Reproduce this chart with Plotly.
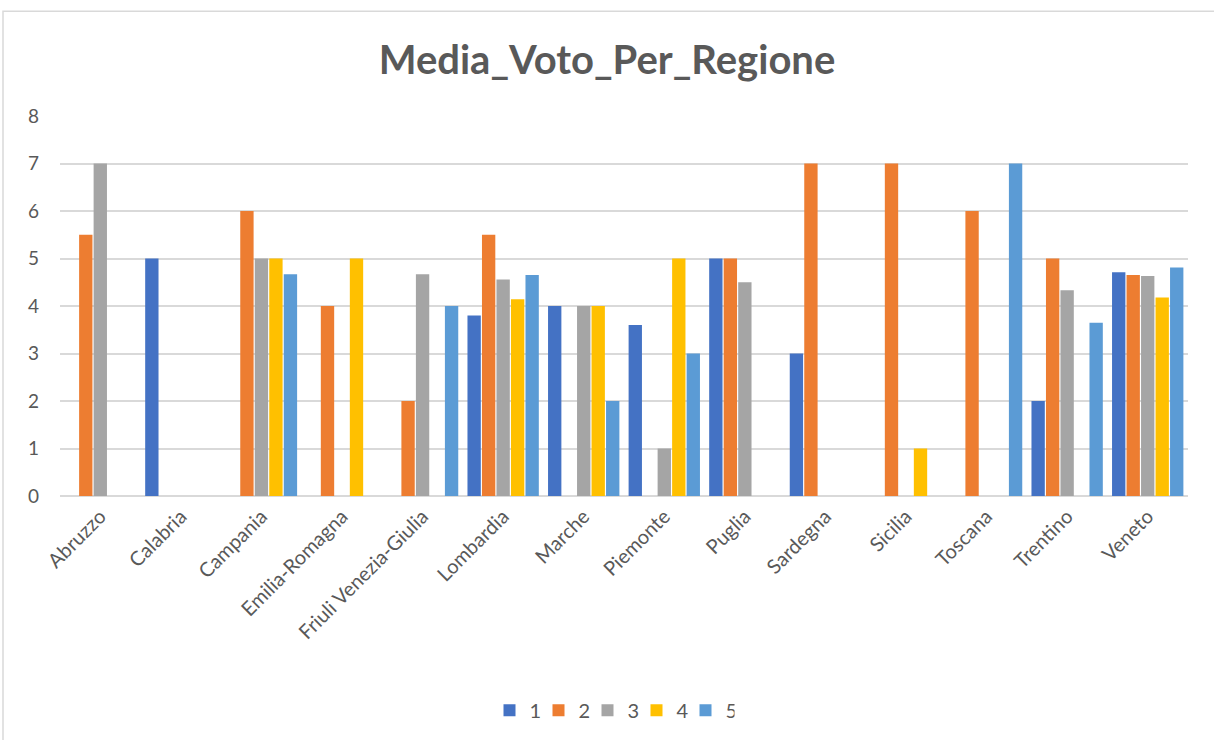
import plotly.graph_objects as go

regions = ["Abruzzo", "Calabria", "Campania", "Emilia-Romagna", "Friuli Venezia-Giulia",
           "Lombardia", "Marche", "Piemonte", "Puglia", "Sardegna", "Sicilia",
           "Toscana", "Trentino", "Veneto"]

voto_1 = [None, 5, None, None, None, 3.8, 4, 3.6, 5, 3, None, None, 2, 4.71]
voto_2 = [5.5, None, 6, 4, 2, 5.5, None, None, 5, 7, 7, 6, 5, 4.65]
voto_3 = [7, None, 5, None, 4.67, 4.56, 4, 1, 4.5, None, None, None, 4.33, 4.63]
voto_4 = [None, None, 5, 5, None, 4.14, 4, 5, None, None, 1, None, None, 4.18]
voto_5 = [None, None, 4.67, None, 4, 4.65, 2, 3, None, None, None, 7, 3.65, 4.81]

series_names = ["1", "2", "3", "4", "5"]
series_values = [voto_1, voto_2, voto_3, voto_4, voto_5]
colors = ["#4472C4", "#ED7D31", "#A5A5A5", "#FFC000", "#5B9BD5"]

fig = go.Figure()
for name, vals, col in zip(series_names, series_values, colors):
    fig.add_trace(go.Bar(x=regions, y=vals, name=name, marker_color=col,
                         marker_line_width=0))

font_fam = "Lato, 'Open Sans', sans-serif"
fig.update_layout(
    width=1214, height=740,
    margin=dict(l=60, r=26, t=116, b=243),
    paper_bgcolor="white", plot_bgcolor="white",
    barmode="group", bargap=0.1, bargroupgap=0.08,
    title=dict(text="<b>Media_Voto_Per_Regione</b>", x=0.5, xanchor="center",
               y=1 - 60 / 740, yanchor="middle",
               font=dict(family=font_fam, size=40, color="#595959")),
    font=dict(family=font_fam, color="#595959"),
    yaxis=dict(range=[0, 8], dtick=1, showgrid=True, gridcolor="#D9D9D9",
               gridwidth=1.5, zeroline=True, zerolinecolor="#D9D9D9",
               zerolinewidth=1.5, tickfont=dict(size=19, color="#595959"),
               ticks="", ticklabelstandoff=20),
    xaxis=dict(tickangle=-45, tickfont=dict(size=20, color="#595959"),
               showline=False, ticks="", ticklabelstandoff=4),
    legend=dict(orientation="h", x=(612 - 60) / 1128, xanchor="center", y=-0.56,
                yanchor="middle", font=dict(size=20, color="#595959"),
                itemwidth=30, traceorder="normal",
                entrywidth=4, entrywidthmode="pixels"),
    shapes=[dict(type="rect", xref="paper", yref="paper",
                 x0=(3 - 60) / 1128, x1=(1230 - 60) / 1128,
                 y0=-(760 - 497) / 381, y1=1 + (116 - 11) / 381,
                 line=dict(color="#D9D9D9", width=1.5), layer="below")],
)

fig.write_html("out.html")
